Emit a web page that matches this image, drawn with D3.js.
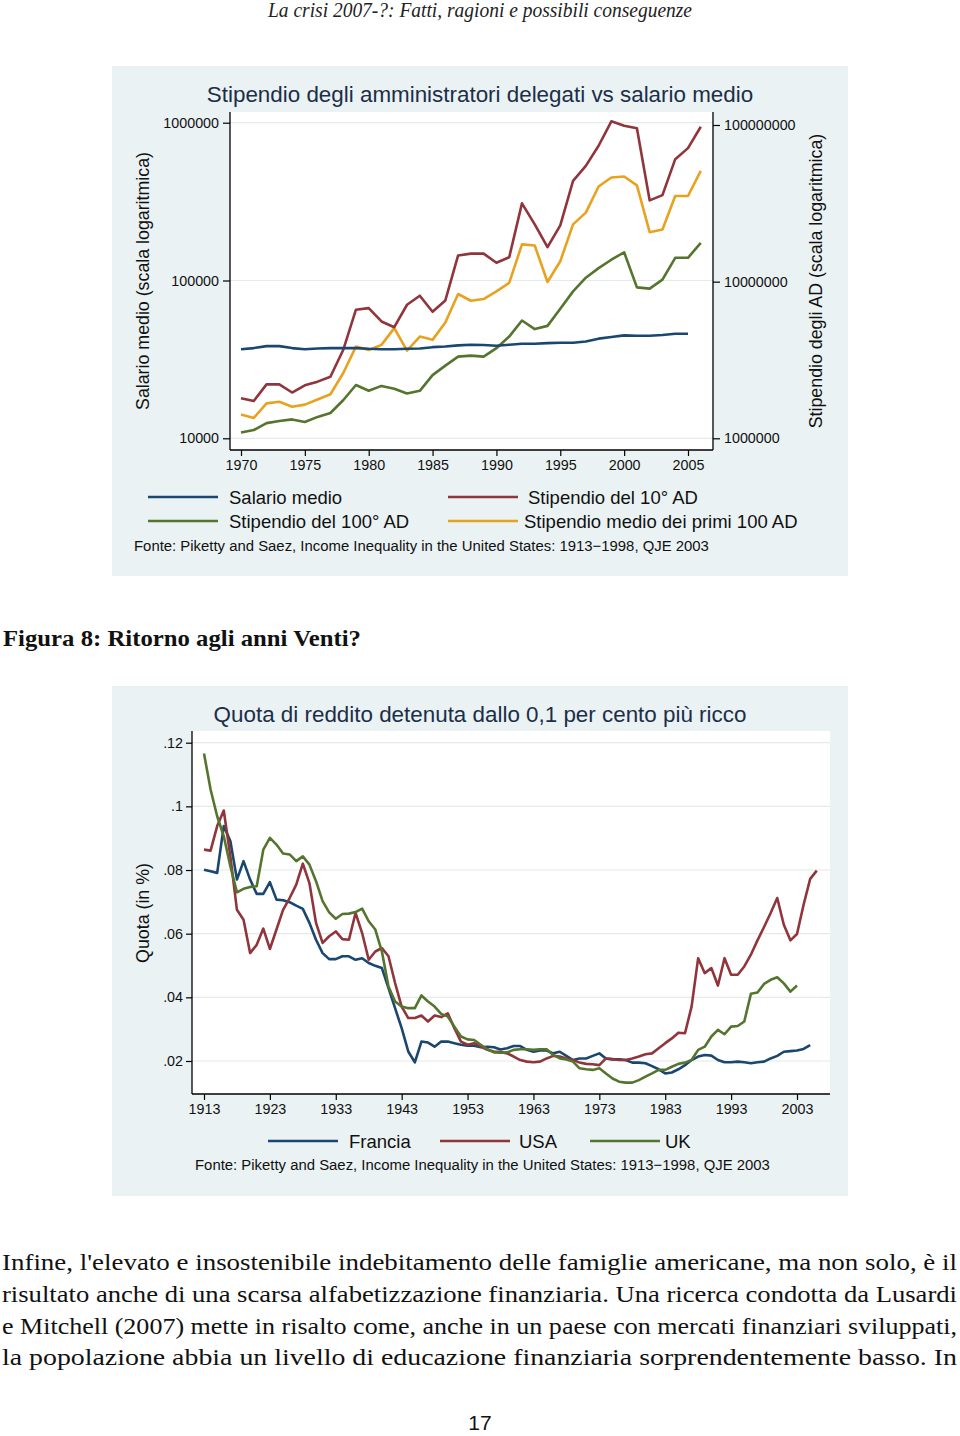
<!DOCTYPE html>
<html><head><meta charset="utf-8">
<script src="https://cdn.jsdelivr.net/npm/d3@7"></script>
<style>body{margin:0;background:#fff;} svg{display:block}</style>
</head><body>
<svg id="page" width="960" height="1436"></svg>
<script>
// ---------------- DATA: chart 1 ----------------
const salaryYears = d3.range(1970, 2006);
const ceoYears = d3.range(1970, 2007);
const salarioMedio = [36700,37300,38400,38400,37300,36700,37100,37300,37300,37300,
  36900,36700,36700,36900,37100,37800,38200,38800,39200,39000,
  38600,39200,39700,39700,40100,40300,40300,41100,42800,43800,
  44900,44700,44700,45100,46000,46000];
const stipendio10 = [1.80e6,1.73e6,2.21e6,2.21e6,1.96e6,2.18e6,2.30e6,2.47e6,3.66e6,6.62e6,
  6.78e6,5.57e6,5.12e6,7.12e6,8.13e6,6.42e6,7.59e6,14.7e6,15.1e6,15.1e6,
  13.2e6,14.3e6,31.6e6,23.2e6,16.6e6,22.9e6,44.0e6,54.8e6,73.7e6,105.6e6,
  99.0e6,95.2e6,33.0e6,35.7e6,60.5e6,71.2e6,97.5e6];
const stipendio100 = [1.09e6,1.13e6,1.25e6,1.29e6,1.32e6,1.27e6,1.37e6,1.45e6,1.75e6,2.19e6,
  2.01e6,2.16e6,2.07e6,1.93e6,2.01e6,2.53e6,2.91e6,3.32e6,3.37e6,3.32e6,
  3.76e6,4.46e6,5.65e6,4.98e6,5.22e6,6.71e6,8.67e6,10.6e6,12.2e6,13.8e6,
  15.4e6,9.19e6,9.02e6,10.3e6,14.2e6,14.2e6,17.7e6];
const stipendioMedio100 = [1.42e6,1.35e6,1.67e6,1.71e6,1.59e6,1.64e6,1.77e6,1.91e6,2.60e6,3.85e6,
  3.66e6,3.95e6,5.05e6,3.63e6,4.46e6,4.25e6,5.48e6,8.34e6,7.55e6,7.74e6,
  8.67e6,9.81e6,17.3e6,17.0e6,9.95e6,13.5e6,23.2e6,27.6e6,40.5e6,46.2e6,
  46.9e6,41.2e6,20.7e6,21.5e6,35.2e6,35.2e6,50.9e6];
const xTicks1 = [1970,1975,1980,1985,1990,1995,2000,2005];
const leftTicks1 = [10000,100000,1000000];
const rightTicks1 = [1000000,10000000,100000000];

// ---------------- DATA: chart 2 ----------------
const franciaYears = d3.range(1913, 2006);
const usaYears = d3.range(1913, 2007);
const ukYears = d3.range(1913, 2004);
const francia = [.0801,.0796,.0791,.0938,.0891,.0770,.0828,.0770,.0725,.0725,
  .0762,.0707,.0705,.0699,.0688,.0678,.0634,.0581,.0539,.0520,
  .0520,.0529,.0529,.0518,.0523,.0508,.0499,.0492,.0429,.0366,
  .0303,.0230,.0196,.0261,.0258,.0245,.0261,.0261,.0256,.0251,
  .0248,.0248,.0243,.0245,.0243,.0236,.0240,.0247,.0247,.0235,
  .0229,.0233,.0233,.0224,.0229,.0216,.0203,.0208,.0208,.0216,
  .0224,.0208,.0205,.0205,.0203,.0195,.0195,.0193,.0184,.0174,
  .0161,.0164,.0174,.0187,.0203,.0214,.0219,.0217,.0203,.0196,
  .0196,.0198,.0196,.0193,.0196,.0198,.0208,.0216,.0229,.0231,
  .0233,.0238,.0250];
const usa = [.0864,.0861,.0938,.0987,.0843,.0675,.0644,.0539,.0565,.0616,
  .0552,.0613,.0675,.0712,.0754,.0820,.0759,.0634,.0571,.0592,
  .0607,.0583,.0581,.0665,.0602,.0518,.0544,.0555,.0529,.0445,
  .0371,.0335,.0335,.0343,.0324,.0343,.0338,.0350,.0303,.0261,
  .0251,.0256,.0245,.0235,.0230,.0228,.0224,.0214,.0203,.0198,
  .0196,.0198,.0208,.0216,.0214,.0208,.0203,.0195,.0191,.0190,
  .0187,.0208,.0206,.0203,.0203,.0208,.0214,.0221,.0224,.0240,
  .0256,.0271,.0289,.0287,.0371,.0523,.0476,.0492,.0437,.0523,
  .0471,.0471,.0497,.0534,.0579,.0621,.0665,.0712,.0628,.0579,
  .0599,.0691,.0772,.0798];
const uk = [.1166,.1053,.0969,.0906,.0812,.0730,.0741,.0747,.0749,.0864,
  .0901,.0880,.0852,.0849,.0828,.0843,.0817,.0765,.0702,.0667,
  .0647,.0662,.0663,.0668,.0679,.0639,.0613,.0544,.0434,.0387,
  .0371,.0366,.0366,.0406,.0387,.0371,.0348,.0340,.0308,.0277,
  .0268,.0266,.0251,.0237,.0227,.0226,.0227,.0235,.0237,.0237,
  .0235,.0237,.0237,.0219,.0208,.0205,.0198,.0177,.0174,.0172,
  .0177,.0161,.0145,.0135,.0132,.0132,.0140,.0151,.0161,.0172,
  .0172,.0182,.0191,.0195,.0203,.0235,.0245,.0277,.0298,.0284,
  .0308,.0310,.0324,.0411,.0415,.0442,.0455,.0463,.0444,.0418,
  .0437];
const xTicks2 = [1913,1923,1933,1943,1953,1963,1973,1983,1993,2003];
const yTicks2 = [.02,.04,.06,.08,.10,.12];
const yTickLabels2 = [".02",".04",".06",".08",".1",".12"];

// ---------------- PAGE TEXT ----------------
const headerText = "La crisi 2007-?: Fatti, ragioni e possibili conseguenze";
const captionText = "Figura 8: Ritorno agli anni Venti?";
const paragraphLines = [
  "Infine, l'elevato e insostenibile indebitamento delle famiglie americane, ma non solo, è il",
  "risultato anche di una scarsa alfabetizzazione finanziaria. Una ricerca condotta da Lusardi",
  "e Mitchell (2007) mette in risalto come, anche in un paese con mercati finanziari sviluppati,",
  "la popolazione abbia un livello di educazione finanziaria sorprendentemente basso. In"
];
const pageNumber = "17";
const fonteText = "Fonte: Piketty and Saez, Income Inequality in the United States: 1913\u22121998, QJE 2003";

// ---------------- STYLE ----------------
const C = {navy:"#1a476f", maroon:"#90353b", green:"#55752f", orange:"#e8a21f",
  panel:"#eaf2f3", grid:"#e4eaec", text:"#111", title:"#1c2e48"};
const SANS = "'Liberation Sans', Arial, sans-serif";
const SERIF = "'Liberation Serif', 'DejaVu Serif', serif";
const F = {title:22.4, tick:14.3, axisTitle:17.8, legend:18.5, fonte:14.9};

const svg = d3.select("#page");
svg.append("rect").attr("width",960).attr("height",1436).attr("fill","#fff");

// header
svg.append("text").attr("x",268).attr("y",17).attr("font-family",SERIF).attr("font-style","italic")
  .attr("font-size",20).attr("textLength",424).attr("lengthAdjust","spacingAndGlyphs")
  .attr("fill","#222").text(headerText);
// caption
svg.append("text").attr("x",3).attr("y",646).attr("font-family",SERIF).attr("font-weight","bold")
  .attr("font-size",23).attr("textLength",358).attr("lengthAdjust","spacingAndGlyphs")
  .attr("fill","#111").text(captionText);
// paragraph
svg.selectAll("text.para").data(paragraphLines).enter().append("text").attr("class","para")
  .attr("x",2).attr("y",(d,i)=>1270+i*31.8).attr("font-family",SERIF).attr("font-size",22.5)
  .attr("textLength",955).attr("lengthAdjust","spacingAndGlyphs").attr("fill","#111").text(d=>d);
svg.append("text").attr("x",480).attr("y",1430).attr("text-anchor","middle").attr("font-family",SANS)
  .attr("font-size",21).attr("fill","#111").text(pageNumber);

function styleAxis(g, size){
  g.select(".domain").remove();
  g.selectAll(".tick line").attr("stroke","#000").attr("stroke-width",1.2);
  g.selectAll(".tick text").attr("font-family",SANS).attr("font-size",size).attr("fill",C.text);
}

// ================= CHART 1 =================
(function(){
  const P = {x:112,y:66,w:736,h:510};
  const R = {l:230,r:713,t:112,b:450};
  svg.append("rect").attr("x",P.x).attr("y",P.y).attr("width",P.w).attr("height",P.h).attr("fill",C.panel);
  svg.append("rect").attr("x",R.l).attr("y",R.t).attr("width",R.r-R.l).attr("height",R.b-R.t).attr("fill","#fff");
  const x = d3.scaleLinear().domain([1970,2005]).range([241,688]);
  const yL = d3.scaleLog().domain([1e4,1e6]).range([438.3,122.7]);
  const yR = d3.scaleLog().domain([1e6,1e8]).range([438.3,125]);
  svg.append("g").selectAll("line").data(leftTicks1).enter().append("line")
    .attr("x1",R.l).attr("x2",R.r).attr("y1",d=>yL(d)).attr("y2",d=>yL(d))
    .attr("stroke",C.grid).attr("stroke-width",1.2);
  const gl = svg.append("g").attr("transform",`translate(${R.l},0)`)
    .call(d3.axisLeft(yL).tickValues(leftTicks1).tickFormat(d3.format("d")).tickSize(7).tickPadding(4));
  styleAxis(gl,F.tick);
  const gr = svg.append("g").attr("transform",`translate(${R.r},0)`)
    .call(d3.axisRight(yR).tickValues(rightTicks1).tickFormat(d3.format("d")).tickSize(7).tickPadding(4));
  styleAxis(gr,F.tick);
  const gb = svg.append("g").attr("transform",`translate(0,${R.b})`)
    .call(d3.axisBottom(x).tickValues(xTicks1).tickFormat(d3.format("d")).tickSize(6).tickPadding(4));
  styleAxis(gb,F.tick);
  [[R.l,R.t,R.l,R.b],[R.r,R.t,R.r,R.b],[R.l,R.b,R.r,R.b]].forEach(a=>{
    svg.append("line").attr("x1",a[0]).attr("y1",a[1]).attr("x2",a[2]).attr("y2",a[3])
      .attr("stroke","#000").attr("stroke-width",1.3);
  });
  const series = [
    {name:"Salario medio", years:salaryYears, vals:salarioMedio, color:C.navy, y:yL},
    {name:"Stipendio del 10° AD", years:ceoYears, vals:stipendio10, color:C.maroon, y:yR},
    {name:"Stipendio del 100° AD", years:ceoYears, vals:stipendio100, color:C.green, y:yR},
    {name:"Stipendio medio dei primi 100 AD", years:ceoYears, vals:stipendioMedio100, color:C.orange, y:yR}
  ];
  [3,2,1,0].forEach(i=>{
    const s = series[i];
    const line = d3.line().x((d,k)=>x(s.years[k])).y(d=>s.y(d));
    svg.append("path").datum(s.vals).attr("d",line).attr("fill","none")
      .attr("stroke",s.color).attr("stroke-width",2.6).attr("stroke-linejoin","round");
  });
  svg.append("text").attr("x",480).attr("y",102).attr("text-anchor","middle").attr("font-family",SANS)
    .attr("font-size",F.title).attr("fill",C.title).text("Stipendio degli amministratori delegati vs salario medio");
  svg.append("text").attr("transform","translate(149,281) rotate(-90)").attr("text-anchor","middle")
    .attr("font-family",SANS).attr("font-size",F.axisTitle).attr("fill",C.text).text("Salario medio (scala logaritmica)");
  svg.append("text").attr("transform","translate(822,281) rotate(-90)").attr("text-anchor","middle")
    .attr("font-family",SANS).attr("font-size",F.axisTitle).attr("fill",C.text).text("Stipendio degli AD (scala logaritmica)");
  const leg = [
    {s:series[0], lx:148, tx:229, y:497},
    {s:series[1], lx:448, tx:528, y:497},
    {s:series[2], lx:148, tx:229, y:521},
    {s:series[3], lx:448, tx:524, y:521}
  ];
  leg.forEach(e=>{
    svg.append("line").attr("x1",e.lx).attr("x2",e.lx+70).attr("y1",e.y).attr("y2",e.y)
      .attr("stroke",e.s.color).attr("stroke-width",2.6);
    svg.append("text").attr("x",e.tx).attr("y",e.y+6.5).attr("font-family",SANS).attr("font-size",F.legend)
      .attr("fill",C.text).text(e.s.name);
  });
  svg.append("text").attr("x",134).attr("y",551).attr("font-family",SANS).attr("font-size",F.fonte)
    .attr("fill",C.text).text(fonteText);
})();

// ================= CHART 2 =================
(function(){
  const P = {x:112,y:686,w:736,h:510};
  const R = {l:192,r:830,t:731,b:1094};
  svg.append("rect").attr("x",P.x).attr("y",P.y).attr("width",P.w).attr("height",P.h).attr("fill",C.panel);
  svg.append("rect").attr("x",R.l).attr("y",R.t).attr("width",R.r-R.l).attr("height",R.b-R.t).attr("fill","#fff");
  const x = d3.scaleLinear().domain([1913,2003]).range([204,797]);
  const y = d3.scaleLinear().domain([0.02,0.12]).range([1061,742.7]);
  svg.append("g").selectAll("line").data(yTicks2).enter().append("line")
    .attr("x1",R.l).attr("x2",R.r).attr("y1",d=>y(d)).attr("y2",d=>y(d))
    .attr("stroke",C.grid).attr("stroke-width",1.2);
  const gl = svg.append("g").attr("transform",`translate(${R.l},0)`)
    .call(d3.axisLeft(y).tickValues(yTicks2).tickFormat((d,i)=>yTickLabels2[i]).tickSize(6).tickPadding(3));
  styleAxis(gl,F.tick);
  const gb = svg.append("g").attr("transform",`translate(0,${R.b})`)
    .call(d3.axisBottom(x).tickValues(xTicks2).tickFormat(d3.format("d")).tickSize(6).tickPadding(4));
  styleAxis(gb,F.tick);
  [[R.l,R.t,R.l,R.b],[R.l,R.b,R.r,R.b]].forEach(a=>{
    svg.append("line").attr("x1",a[0]).attr("y1",a[1]).attr("x2",a[2]).attr("y2",a[3])
      .attr("stroke","#000").attr("stroke-width",1.3);
  });
  const series = [
    {name:"Francia", years:franciaYears, vals:francia, color:C.navy},
    {name:"USA", years:usaYears, vals:usa, color:C.maroon},
    {name:"UK", years:ukYears, vals:uk, color:C.green}
  ];
  series.forEach(s=>{
    const line = d3.line().x((d,k)=>x(s.years[k])).y(d=>y(d));
    svg.append("path").datum(s.vals).attr("d",line).attr("fill","none")
      .attr("stroke",s.color).attr("stroke-width",2.6).attr("stroke-linejoin","round");
  });
  svg.append("text").attr("x",480).attr("y",722).attr("text-anchor","middle").attr("font-family",SANS)
    .attr("font-size",F.title).attr("fill",C.title).text("Quota di reddito detenuta dallo 0,1 per cento più ricco");
  svg.append("text").attr("transform","translate(149,913) rotate(-90)").attr("text-anchor","middle")
    .attr("font-family",SANS).attr("font-size",F.axisTitle).attr("fill",C.text).text("Quota (in %)");
  const leg = [{s:series[0],lx:268,tx:349},{s:series[1],lx:440,tx:519},{s:series[2],lx:590,tx:665}];
  leg.forEach(e=>{
    svg.append("line").attr("x1",e.lx).attr("x2",e.lx+70).attr("y1",1141).attr("y2",1141)
      .attr("stroke",e.s.color).attr("stroke-width",2.6);
    svg.append("text").attr("x",e.tx).attr("y",1147.5).attr("font-family",SANS).attr("font-size",F.legend)
      .attr("fill",C.text).text(e.s.name);
  });
  svg.append("text").attr("x",195).attr("y",1170).attr("font-family",SANS).attr("font-size",F.fonte)
    .attr("fill",C.text).text(fonteText);
})();
</script>
</body></html>
